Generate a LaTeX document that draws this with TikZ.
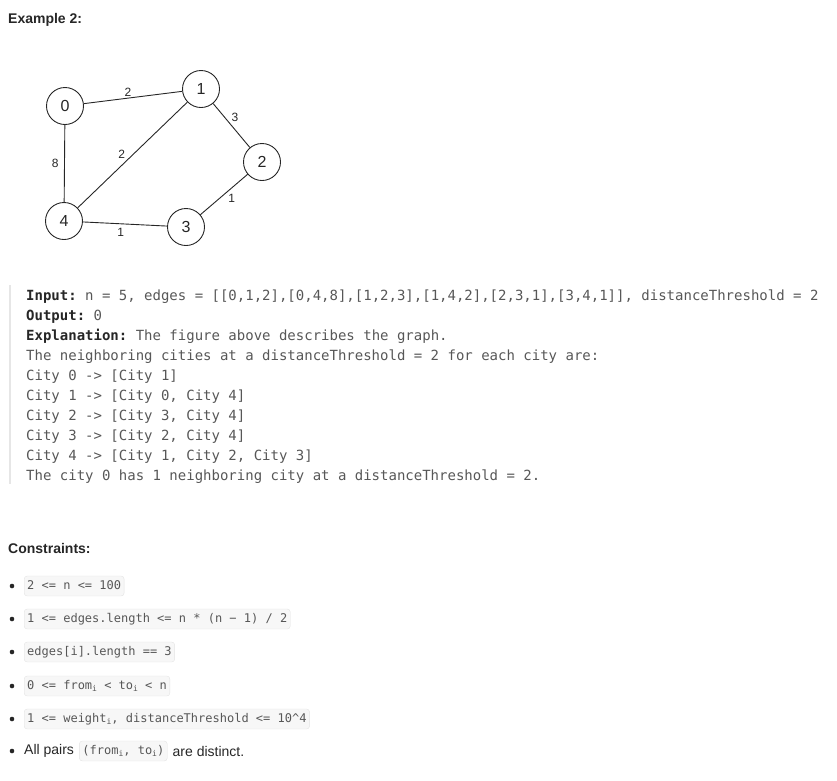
\documentclass[tikz,border=0pt]{standalone}
\usepackage{fontspec}
\setmainfont{Liberation Sans}
\setmonofont{DejaVu Sans Mono}
\usetikzlibrary{positioning}
\definecolor{ink}{HTML}{262626}
\definecolor{codegray}{HTML}{575757}
\definecolor{boxfill}{HTML}{F7F7F7}
\definecolor{boxline}{HTML}{E3E3E3}
\definecolor{barline}{HTML}{E6E6E6}
\newcommand{\sub}[1]{\raisebox{-.35ex}{\fontsize{8}{8}\selectfont #1}}

\tikzset{
  city/.style={circle, draw=ink, line width=.9pt, minimum size=37pt, inner sep=0pt,
    font=\fontsize{16}{16}\selectfont, text=ink},
  weight/.style={font=\fontsize{12}{12}\selectfont, text=ink, inner sep=1.5pt},
  road/.style={draw=ink, line width=.9pt},
  heading/.style={anchor=base west, inner sep=0pt, font=\bfseries\fontsize{14}{14}\selectfont, text=ink},
  codeline/.style={anchor=base west, inner sep=0pt, font=\ttfamily\fontsize{14}{14}\selectfont, text=codegray},
  codebox/.style={anchor=west, fill=boxfill, draw=boxline, rounded corners=3pt, inner xsep=3pt,
    inner ysep=0pt, minimum height=20pt, text height=9pt, text depth=3pt,
    font=\ttfamily\fontsize{12}{12}\selectfont, text=codegray},
  prose/.style={anchor=west, inner sep=0pt, font=\fontsize{14}{14}\selectfont, text=ink}
}

\begin{document}
\begin{tikzpicture}[x=1pt, y=-1pt]
    \useasboundingbox (0,0) rectangle (837,780);

    \node[heading] (example) at (8,23) {Example 2:};

    \node[city] (c0) at (65,106) {0};
    \node[city] (c1) at (201,89) {1};
    \node[city] (c2) at (262,162) {2};
    \node[city] (c3) at (186,227) {3};
    \node[city] (c4) at (64,221) {4};

    \draw[road] (c0) -- node[weight, pos=.45, above] {2} (c1);
    \draw[road] (c1) -- node[weight, pos=.45, above right] {3} (c2);
    \draw[road] (c1) -- node[weight, pos=.55, above left] {2} (c4);
    \draw[road] (c0) -- node[weight, midway, left=4pt] {8} (c4);
    \draw[road] (c2) -- node[weight, pos=.45, below right] {1} (c3);
    \draw[road] (c3) -- node[weight, pos=.55, below=2pt] {1} (c4);

    \draw[barline, line width=2pt] (10,285) -- (10,484);

    \node[codeline] (input) at (26,300) {\textbf{\color{ink}Input:} n = 5, edges = [[0,1,2],[0,4,8],[1,2,3],[1,4,2],[2,3,1],[3,4,1]], distanceThreshold = 2};
    \node[codeline] (output) at (26,320) {\textbf{\color{ink}Output:} 0};
    \node[codeline] (explain) at (26,340) {\textbf{\color{ink}Explanation:} The figure above describes the graph.};
    \node[codeline] (neigh) at (26,360) {The neighboring cities at a distanceThreshold = 2 for each city are:};
    \foreach \t [count=\k from 0] in {{City 0 -> [City 1]}, {City 1 -> [City 0, City 4]},
        {City 2 -> [City 3, City 4]}, {City 3 -> [City 2, City 4]}, {City 4 -> [City 1, City 2, City 3]}}
        \node[codeline] (city\k) at (26,380+20*\k) {\t};
    \node[codeline] (answer) at (26,480) {The city 0 has 1 neighboring city at a distanceThreshold = 2.};

    \node[heading] (constraints) at (8,553) {Constraints:};

    \foreach \y in {586,619,652,686,719,751}
        \fill[ink] (12,\y) circle (2.3pt);

    \node[codebox] (r1) at (24,586) {2 <= n <= 100};
    \node[codebox] (r2) at (24,619) {1 <= edges.length <= n * (n − 1) / 2};
    \node[codebox] (r3) at (24,652) {edges[i].length == 3};
    \node[codebox] (r4) at (24,686) {0 <= from\sub{i} < to\sub{i} < n};
    \node[codebox] (r5) at (24,719) {1 <= weight\sub{i}, distanceThreshold <= 10\textasciicircum 4};
    \node[prose] (pairs) at (24,751) {All pairs};
    \node[codebox, right=5pt of pairs] (r6) {(from\sub{i}, to\sub{i})};
    \node[prose, right=5pt of r6] (distinct) {are distinct.};
\end{tikzpicture}
\end{document}
